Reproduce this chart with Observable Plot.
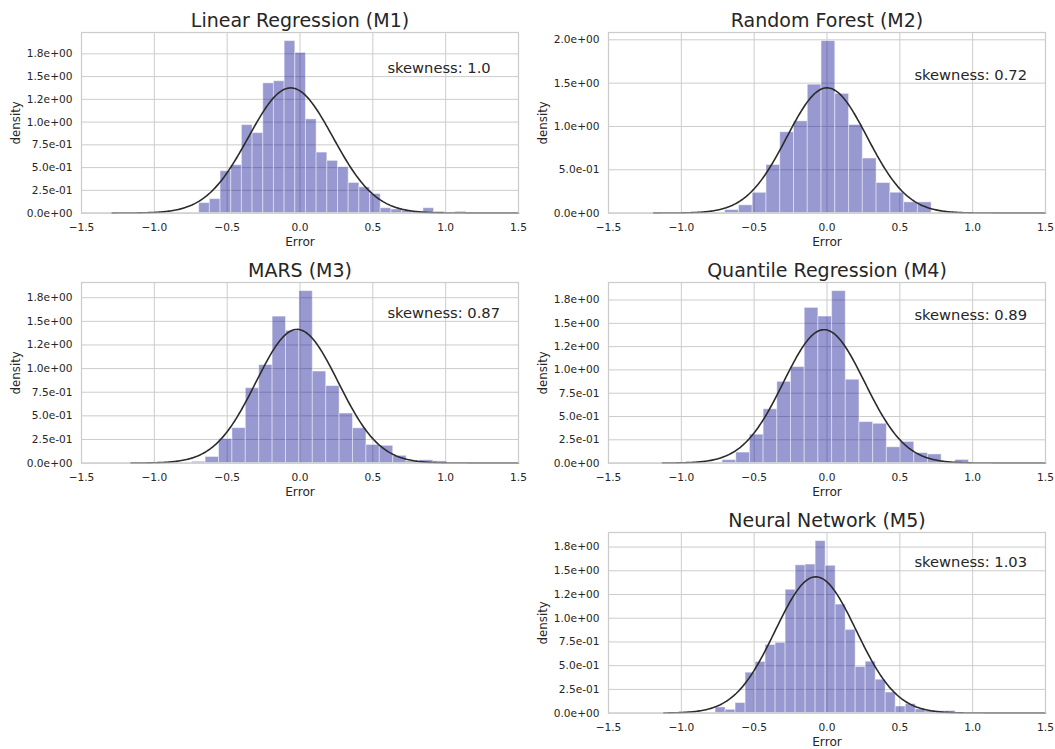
<!DOCTYPE html>
<html>
<head>
<meta charset="utf-8">
<script src="https://cdn.jsdelivr.net/npm/d3@7"></script>
<script src="https://cdn.jsdelivr.net/npm/@observablehq/plot@0.6"></script>
<style>
  html, body { margin: 0; padding: 0; background: #ffffff; }
  #fig { position: relative; width: 1055px; height: 749px; background: #ffffff; overflow: hidden; }
  #fig > div { position: absolute; }
</style>
</head>
<body>
<div id="fig"></div>
<script>
// ---- data ----
const modelTitles = ["Linear Regression (M1)", "Random Forest (M2)", "MARS (M3)", "Quantile Regression (M4)", "Neural Network (M5)"];
const skewnessLabels = ["1.0", "0.72", "0.87", "0.89", "1.03"];

// histogram: first bin edge, bin width, bar densities
const binStart = [-0.692, -0.699, -0.74, -0.717, -0.765];
const binWidth = [0.0733, 0.0945, 0.092, 0.094, 0.0687];
const densM1 = [0.11, 0.154, 0.46, 0.526, 0.967, 0.879, 1.426, 1.449, 1.89, 1.76, 1.03, 0.665, 0.574, 0.504, 0.331, 0.283, 0.21, 0.054, 0.04, 0.027, 0.014, 0.054, 0.014, 0, 0.014];
const densM2 = [0.035, 0.09, 0.234, 0.555, 0.933, 1.059, 1.482, 1.985, 1.376, 1.017, 0.63, 0.347, 0.235, 0.124, 0.124];
const densM3 = [0.014, 0.065, 0.255, 0.37, 0.793, 1.038, 1.55, 1.40, 1.82, 0.969, 0.815, 0.525, 0.368, 0.192, 0.183, 0.077, 0.018, 0.03, 0.018];
const densM4 = [0.032, 0.113, 0.305, 0.578, 0.872, 1.031, 1.666, 1.573, 1.846, 0.895, 0.44, 0.422, 0.17, 0.227, 0.108, 0.093, 0, 0.034];
const densM5 = [0.06, 0.035, 0.106, 0.426, 0.539, 0.718, 0.741, 1.30, 1.558, 1.566, 1.813, 1.553, 1.144, 0.877, 0.486, 0.542, 0.352, 0.217, 0.07, 0.095, 0.04, 0.02, 0.02, 0.022];
const densities = [densM1, densM2, densM3, densM4, densM5];

// fitted normal curve: mean, standard deviation, left end of the drawn curve
const fitMean = [-0.064, 0.0, -0.02, -0.02, -0.077];
const fitSd = [0.290, 0.276, 0.282, 0.2786, 0.2777];
const fitFrom = [-1.29, -1.19, -1.16, -1.13, -1.12];

// ticks
const xTicks = [-1.5, -1.0, -0.5, 0.0, 0.5, 1.0, 1.5];
const xTickLabels = ["\u22121.5", "\u22121.0", "\u22120.5", "0.0", "0.5", "1.0", "1.5"];
const yTicksA = [0, 0.25, 0.5, 0.75, 1.0, 1.25, 1.5, 1.75];
const yTickLabelsA = ["0.0e+00", "2.5e-01", "5.0e-01", "7.5e-01", "1.0e+00", "1.2e+00", "1.5e+00", "1.8e+00"];
const yTicksB = [0, 0.5, 1.0, 1.5, 2.0];
const yTickLabelsB = ["0.0e+00", "5.0e-01", "1.0e+00", "1.5e+00", "2.0e+00"];
const panelYTicks = [[yTicksA, yTickLabelsA], [yTicksB, yTickLabelsB], [yTicksA, yTickLabelsA], [yTicksA, yTickLabelsA], [yTicksA, yTickLabelsA]];

// ---- layout ----
const slots = [
  {left: 0, top: 0, width: 527, mr: 9},
  {left: 527, top: 0, width: 528, mr: 10},
  {left: 0, top: 250, width: 527, mr: 9},
  {left: 527, top: 250, width: 528, mr: 10},
  {left: 527, top: 500, width: 528, mr: 10}
];

const FONT = "DejaVu Sans, Liberation Sans, sans-serif";
const TXT = "#262626";
const GRID = "#cccccc";

function panel(k) {
  const dens = densities[k];
  const bars = dens.map((h, i) => ({x1: binStart[k] + i * binWidth[k], x2: binStart[k] + (i + 1) * binWidth[k], y: h}));
  const mu = fitMean[k], sd = fitSd[k];
  const nPts = 300;
  const curve = d3.range(nPts + 1).map(j => {
    const x = fitFrom[k] + (1.5 - fitFrom[k]) * j / nPts;
    return {x, y: Math.exp(-0.5 * ((x - mu) / sd) ** 2) / (sd * Math.sqrt(2 * Math.PI))};
  });
  const yMax = 1.05 * Math.max(d3.max(dens), d3.max(curve, d => d.y));
  const [yt, ytl] = panelYTicks[k];
  const yLab = new Map(yt.map((t, i) => [t, ytl[i]]));
  const xLab = new Map(xTicks.map((t, i) => [t, xTickLabels[i]]));
  const s = slots[k];
  return Plot.plot({
    width: s.width,
    height: 250,
    marginLeft: 81,
    marginRight: s.mr,
    marginTop: 32,
    marginBottom: 37.4,
    style: {fontFamily: FONT, color: TXT, background: "#ffffff", overflow: "visible"},
    x: {domain: [-1.5, 1.5]},
    y: {domain: [0, yMax]},
    marks: [
      Plot.gridX(xTicks, {stroke: GRID, strokeOpacity: 1, strokeWidth: 1}),
      Plot.gridY(yt, {stroke: GRID, strokeOpacity: 1, strokeWidth: 1}),
      Plot.rectY(bars, {x1: "x1", x2: "x2", y: "y", fill: "#00008b", fillOpacity: 0.4, stroke: "#ffffff", strokeOpacity: 0.45, strokeWidth: 1}),
      Plot.line(curve, {x: "x", y: "y", stroke: "#2b2b2b", strokeWidth: 1.6}),
      Plot.frame({stroke: GRID, strokeWidth: 1.25}),
      Plot.axisX(xTicks, {tickSize: 0, tickPadding: 10, tickFormat: d => xLab.get(d), label: null, fontSize: 10.6, fill: TXT}),
      Plot.axisY(yt, {tickSize: 0, tickPadding: 9, tickFormat: d => yLab.get(d), label: null, fontSize: 10.6, fill: TXT}),
      Plot.text([modelTitles[k]], {text: d => d, frameAnchor: "top", dy: -6, lineAnchor: "bottom", fontSize: 19, fill: TXT}),
      Plot.text([{x: 0.6, y: 1.54, t: "skewness: " + skewnessLabels[k]}], {x: "x", y: "y", text: "t", textAnchor: "start", lineAnchor: "bottom", fontSize: 14.7, fill: TXT}),
      Plot.text(["density"], {text: d => d, frameAnchor: "left", dx: -65, rotate: -90, textAnchor: "middle", lineAnchor: "middle", fontSize: 11.8, fill: TXT}),
      Plot.text(["Error"], {text: d => d, frameAnchor: "bottom", dy: 33, lineAnchor: "bottom", fontSize: 12.2, fill: TXT})
    ]
  });
}

const fig = document.getElementById("fig");
modelTitles.forEach((t, k) => {
  const holder = document.createElement("div");
  holder.style.left = slots[k].left + "px";
  holder.style.top = slots[k].top + "px";
  holder.appendChild(panel(k));
  fig.appendChild(holder);
});
</script>
</body>
</html>
